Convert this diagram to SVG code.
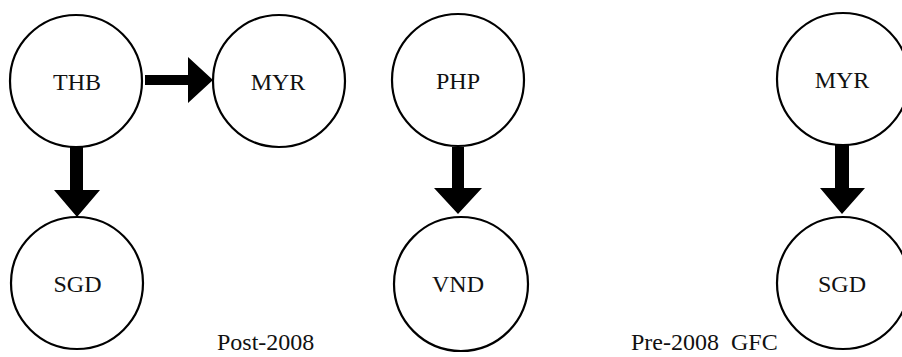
<svg xmlns="http://www.w3.org/2000/svg" width="902" height="357" viewBox="0 0 902 357">
  <style>
    .node circle { fill: #ffffff; stroke: #000000; stroke-width: 2.2; }
    .node text, .caption { font-family: "Liberation Serif", "Times New Roman", serif; font-size: 24px; fill: #111111; }
    .node text { text-anchor: middle; }
    .arrow { fill: #000000; stroke: none; }
  </style>
  <rect width="902" height="357" fill="#ffffff"/>

  <!-- block arrows -->
  <g id="connectors">
    <!-- THB -> MYR -->
    <path class="arrow" d="M145,75 H188 V57 L213,80 L188,103 V85 H145 Z"/>
    <!-- THB -> SGD -->
    <path class="arrow" d="M70,147 H83 V190 H100 L77,217 L54,190 H70 Z"/>
    <!-- PHP -> VND -->
    <path class="arrow" d="M452,147 H464 V188 H482 L458,214 L434,188 H452 Z"/>
    <!-- MYR -> SGD (pre-2008) -->
    <path class="arrow" d="M835,145 H849 V188 H865 L842,214 L820,188 H835 Z"/>
  </g>

  <!-- post-2008 panel -->
  <g id="node-thb" class="node">
    <circle cx="76" cy="81" r="66"/>
    <text x="77" y="90">THB</text>
  </g>
  <g id="node-myr-post" class="node">
    <circle cx="279" cy="81" r="66"/>
    <text x="278" y="90">MYR</text>
  </g>
  <g id="node-sgd-post" class="node">
    <circle cx="77" cy="283" r="66"/>
    <text x="77.5" y="292">SGD</text>
  </g>
  <g id="node-php" class="node">
    <circle cx="458" cy="80" r="66"/>
    <text x="458" y="89">PHP</text>
  </g>
  <g id="node-vnd" class="node">
    <circle cx="461" cy="284" r="67"/>
    <text x="458" y="292">VND</text>
  </g>
  <text class="caption" x="217" y="350">Post-2008</text>

  <!-- pre-2008 panel -->
  <g id="node-myr-pre" class="node">
    <circle cx="843" cy="79" r="66"/>
    <text x="842" y="88">MYR</text>
  </g>
  <g id="node-sgd-pre" class="node">
    <circle cx="843" cy="283" r="66"/>
    <text x="842" y="292">SGD</text>
  </g>
  <text class="caption" x="631" y="350" xml:space="preserve">Pre-2008  GFC</text>
</svg>
